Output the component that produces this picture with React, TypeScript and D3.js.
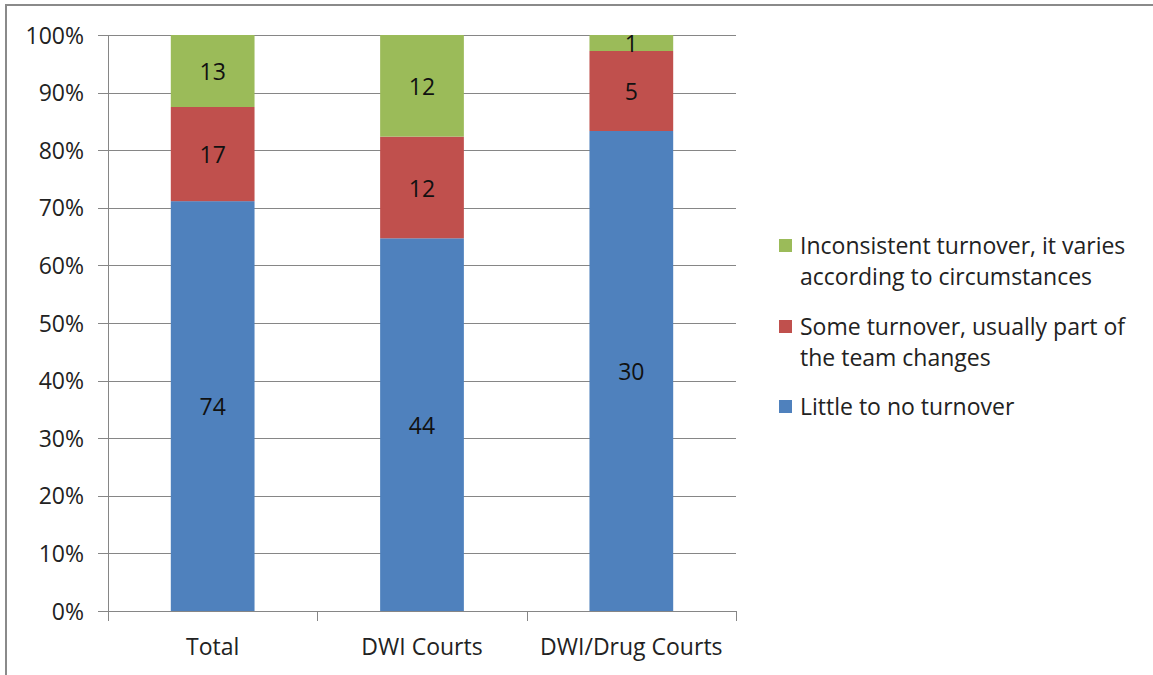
import React from "react";
import * as d3 from "d3";

const categories = ["Total", "DWI Courts", "DWI/Drug Courts"];
const seriesNames = [
  "Little to no turnover",
  "Some turnover, usually part of the team changes",
  "Inconsistent turnover, it varies according to circumstances",
];
const littleValues = [74, 44, 30];
const someValues = [17, 12, 5];
const inconsistentValues = [13, 12, 1];
const yTicks = [0, 0.1, 0.2, 0.3, 0.4, 0.5, 0.6, 0.7, 0.8, 0.9, 1];
const colors = ["#4F81BD", "#C0504D", "#9BBB59"];
const legendLines = [
  ["Inconsistent turnover, it varies", "according to circumstances"],
  ["Some turnover, usually part of", "the team changes"],
  ["Little to no turnover"],
];
const legendColors = ["#9BBB59", "#C0504D", "#4F81BD"];

export default function App() {
  const W = 1153, H = 675;
  const left = 108, right = 736, top = 35, bottom = 611;
  const x = d3.scaleBand().domain(categories).range([left, right]).paddingInner(0).paddingOuter(0);
  const y = d3.scaleLinear().domain([0, 1]).range([bottom, top]);
  const rows = categories.map((c, i) => ({
    cat: c,
    s0: littleValues[i],
    s1: someValues[i],
    s2: inconsistentValues[i],
  }));
  const stack = d3.stack<any>().keys(["s0", "s1", "s2"]).offset(d3.stackOffsetExpand);
  const layers = stack(rows);
  const bw = x.bandwidth() * 0.4;
  const font = "'Open Sans', sans-serif";
  const grid = "#868686";
  const fs = 23;
  return (
    <svg width={W} height={H} style={{ position: "absolute", left: 0, top: 0 }} fontFamily={font}>
      <rect x={0} y={0} width={W} height={H} fill="#fff" />
      <line x1={5} y1={5} x2={W} y2={5} stroke="#8a8a8a" strokeWidth={2} />
      <line x1={6} y1={5} x2={6} y2={H} stroke="#8a8a8a" strokeWidth={2} />
      {yTicks.map((t) => (
        <g key={t}>
          <line x1={98} x2={right} y1={Math.round(y(t)) + 0.5} y2={Math.round(y(t)) + 0.5} stroke={grid} strokeWidth={1} />
          <text x={84} y={y(t)} dy="0.37em" textAnchor="end" fontSize={fs} fill="#222">
            {Math.round(t * 100) + "%"}
          </text>
        </g>
      ))}
      {layers.map((layer, si) =>
        layer.map((d, i) => {
          const cx = x(categories[i])! + x.bandwidth() / 2;
          return (
            <g key={si + "-" + i}>
              <rect x={cx - bw / 2} y={y(d[1])} width={bw} height={y(d[0]) - y(d[1])} fill={colors[si]} />
            </g>
          );
        })
      )}
      <line x1={left + 0.5} x2={left + 0.5} y1={top} y2={621} stroke={grid} />
      {[0, 1, 2, 3].map((k) => {
        const xx = Math.round(left + k * x.bandwidth()) + 0.5;
        return <line key={k} x1={xx} x2={xx} y1={bottom} y2={621} stroke={grid} />;
      })}
      {layers.map((layer, si) =>
        layer.map((d, i) => {
          const cx = x(categories[i])! + x.bandwidth() / 2;
          const v = (d.data as any)[layer.key];
          return (
            <text key={"t" + si + "-" + i} x={cx} y={(y(d[0]) + y(d[1])) / 2} dy="0.4em" textAnchor="middle" fontSize={fs} fill="#111">
              {v}
            </text>
          );
        })
      )}
      {categories.map((c) => (
        <text key={c} x={x(c)! + x.bandwidth() / 2} y={646} dy="0.37em" textAnchor="middle" fontSize={fs} fill="#222">
          {c}
        </text>
      ))}
      {legendLines.map((lines, i) => {
        const baseY = [245, 326, 406][i];
        return (
          <g key={i}>
            <rect x={779} y={baseY - 6} width={13} height={13} fill={legendColors[i]} />
            {lines.map((l, j) => (
              <text key={j} x={800} y={baseY + j * 31} dy="0.37em" fontSize={fs} fill="#222">
                {l}
              </text>
            ))}
          </g>
        );
      })}
    </svg>
  );
}
